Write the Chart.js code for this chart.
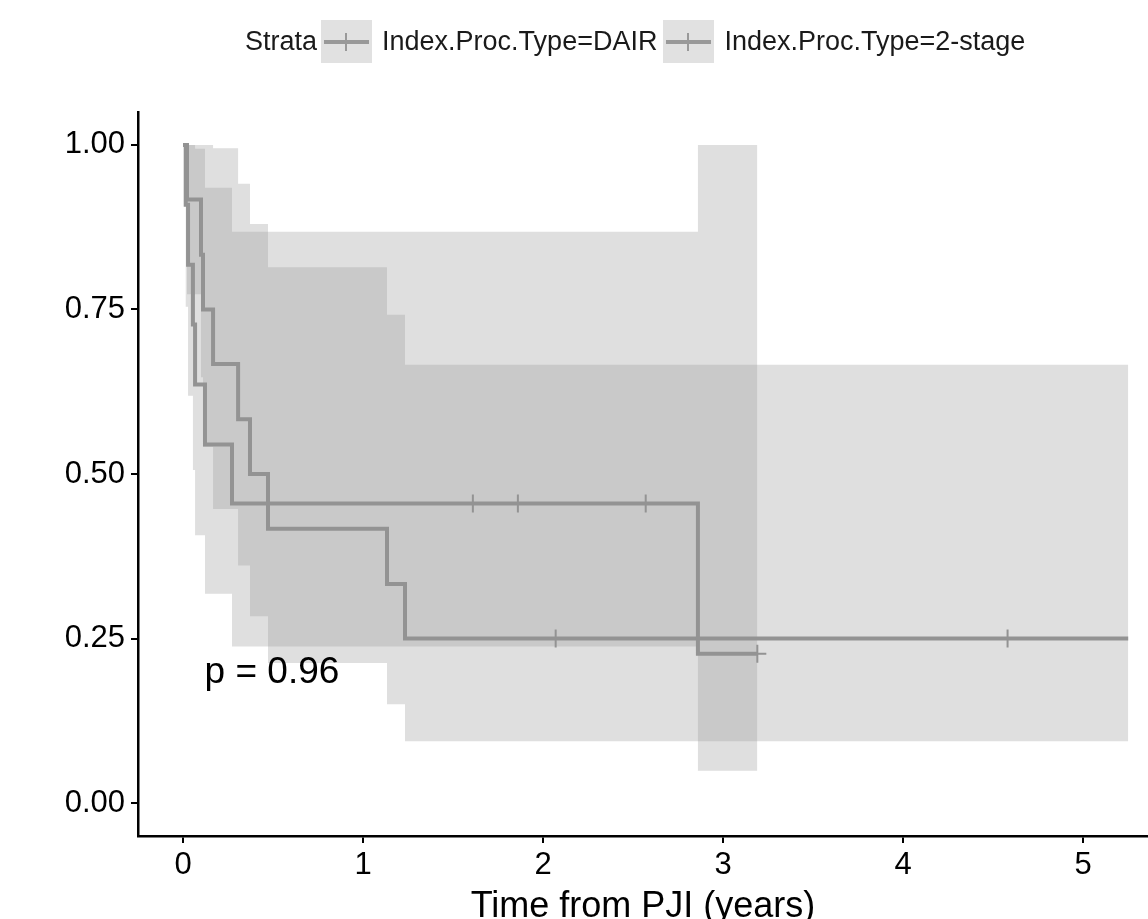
<!DOCTYPE html>
<html>
<head>
<meta charset="utf-8">
<script src="https://cdn.jsdelivr.net/npm/chart.js@4.4.0/dist/chart.umd.min.js"></script>
<style>
  html, body { margin: 0; padding: 0; background: #fff; overflow: hidden; }
  #wrap { position: relative; width: 1148px; height: 919px; }
  #km { display: block; }
  #legend {
    position: absolute; left: 245px; top: 20px; height: 43px;
    display: flex; align-items: center;
    font-family: "Liberation Sans", Arial, sans-serif; font-size: 27px; color: #1a1a1a;
  }
  .key { position: relative; width: 51px; height: 43px; background: #e1e1e1; margin: 0 10px 0 4px; }
  .key::before { content: ""; position: absolute; left: 3px; right: 3px; top: 20px; height: 4px; background: #999; }
  .key::after { content: ""; position: absolute; left: 24px; top: 13px; width: 2px; height: 18px; background: #999; }
  .lab { margin-right: 2px; }
</style>
</head>
<body>
<div id="wrap">
  <canvas id="km" width="1148" height="919"></canvas>
  <div id="legend"></div>
</div>
<script>
// axis ticks
const xTicks = [0, 1, 2, 3, 4, 5];
const yTicks = [0, 0.25, 0.5, 0.75, 1];
const strata = ["Index.Proc.Type=DAIR", "Index.Proc.Type=2-stage"];

// DAIR curve
const dairTime  = [0, 0.015, 0.028, 0.055, 0.067, 0.122, 0.272, 2.86, 3.19];
const dairSurv  = [1, 0.909, 0.818, 0.727, 0.636, 0.545, 0.455, 0.227, 0.227];
const dairUpper = [1, 1, 1, 1, 0.994, 0.935, 0.868, 1, 1];
const dairLower = [1, 0.754, 0.619, 0.506, 0.407, 0.318, 0.238, 0.049, 0.049];
const dairCensTime = [1.61, 1.86, 2.57, 3.19];
const dairCensSurv = [0.455, 0.455, 0.455, 0.227];

// 2-stage curve
const stageTime  = [0, 0.022, 0.10, 0.111, 0.167, 0.306, 0.372, 0.472, 1.133, 1.233, 5.25];
const stageSurv  = [1, 0.917, 0.833, 0.75, 0.667, 0.583, 0.5, 0.417, 0.333, 0.25, 0.25];
const stageUpper = [1, 1, 1, 1, 0.995, 0.941, 0.88, 0.814, 0.742, 0.666, 0.666];
const stageLower = [1, 0.773, 0.647, 0.541, 0.447, 0.361, 0.284, 0.213, 0.150, 0.094, 0.094];
const stageCensTime = [2.07, 4.58];
const stageCensSurv = [0.25, 0.25];

const pvalText = "p = 0.96";
const pvalPos = { x: 0.12, y: 0.198 };

const lineColor = "#939393";
const ribbonColor = "rgba(150,150,150,0.3)";
const font = "'Liberation Sans', Arial, sans-serif";

const pts = (xs, ys) => xs.map((x, i) => ({ x, y: ys[i] }));

function survLine(label, t, s) {
  return { label, data: pts(t, s), stepped: true, borderColor: lineColor, borderWidth: 4,
    pointRadius: 0, fill: false };
}
function censMarks(t, s) {
  return { data: pts(t, s), showLine: false, pointStyle: "cross", pointRadius: 9,
    pointBorderWidth: 2, borderColor: lineColor, pointBorderColor: lineColor, fill: false };
}
function band(t, v, fill) {
  return { data: pts(t, v), stepped: true, borderWidth: 0, borderColor: "rgba(0,0,0,0)",
    pointRadius: 0, backgroundColor: ribbonColor, fill };
}

const pvalPlugin = {
  id: "pval",
  afterDraw(chart) {
    const { ctx, scales } = chart;
    ctx.save();
    ctx.font = `37px ${font}`;
    ctx.fillStyle = "#000";
    ctx.textAlign = "left";
    ctx.textBaseline = "middle";
    ctx.fillText(pvalText, scales.x.getPixelForValue(pvalPos.x), scales.y.getPixelForValue(pvalPos.y));
    ctx.restore();
  }
};

new Chart(document.getElementById("km"), {
  type: "line",
  data: {
    datasets: [
      survLine(strata[0], dairTime, dairSurv),
      survLine(strata[1], stageTime, stageSurv),
      censMarks(dairCensTime, dairCensSurv),
      censMarks(stageCensTime, stageCensSurv),
      band(dairTime, dairUpper, false),
      band(dairTime, dairLower, "-1"),
      band(stageTime, stageUpper, false),
      band(stageTime, stageLower, "-1")
    ]
  },
  options: {
    responsive: false,
    animation: false,
    layout: { autoPadding: false, padding: { top: 112, left: 0, right: 0, bottom: 0 } },
    plugins: { legend: { display: false }, tooltip: { enabled: false } },
    scales: {
      x: {
        type: "linear", min: -0.25, max: 5.36,
        afterBuildTicks: (s) => { s.ticks = xTicks.map((v) => ({ value: v })); },
        afterFit: (s) => { s.height = 83; s.paddingLeft = 0; s.paddingRight = 0; },
        grid: { drawOnChartArea: false, color: "#000", lineWidth: 2, tickLength: 7 },
        border: { color: "#000", width: 2.5 },
        ticks: { color: "#000", font: { size: 31, family: font }, padding: 4, maxRotation: 0, autoSkip: false },
        title: { display: true, text: "Time from PJI (years)", color: "#000",
          font: { size: 36, family: font, lineHeight: 0.67 }, padding: 0 }
      },
      y: {
        type: "linear", min: -0.05, max: 1.05,
        afterBuildTicks: (s) => { s.ticks = yTicks.map((v) => ({ value: v })); },
        afterFit: (s) => { s.width = 138; s.paddingTop = 0; s.paddingBottom = 0; },
        grid: { drawOnChartArea: false, color: "#000", lineWidth: 2, tickLength: 7 },
        border: { color: "#000", width: 2.5 },
        ticks: { color: "#000", font: { size: 31, family: font }, padding: 6, callback: (v) => Number(v).toFixed(2) }
      }
    }
  },
  plugins: [pvalPlugin]
});

// legend strip on top
const leg = document.getElementById("legend");
leg.innerHTML = `<span>Strata</span>` +
  strata.map((s) => `<span class="key"></span><span class="lab">${s}</span>`).join("");
</script>
</body>
</html>
